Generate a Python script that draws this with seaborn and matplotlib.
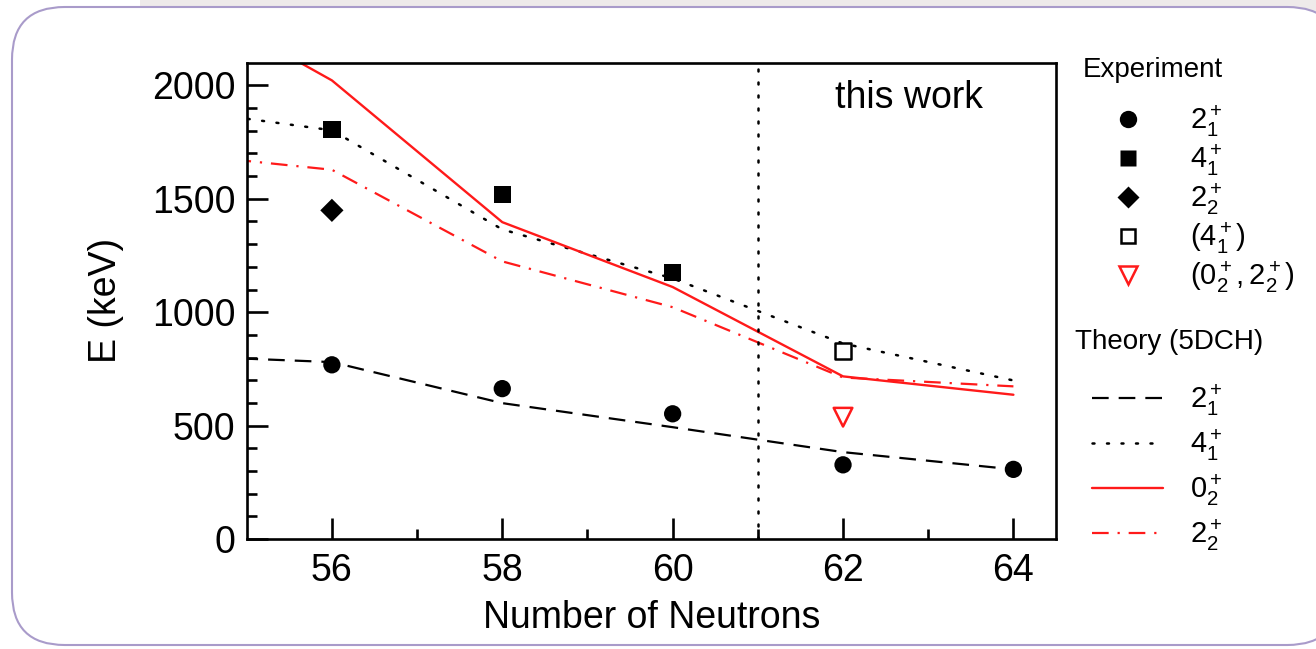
import matplotlib
matplotlib.use("Agg")
import matplotlib.pyplot as plt
import seaborn as sns
from matplotlib.lines import Line2D
from matplotlib.patches import FancyBboxPatch, Rectangle

# experiment points (keV)
n_21 = [56, 58, 60, 62, 64]
e_21 = [768, 663, 552, 327, 307]
n_41 = [56, 58, 60]
e_41 = [1805, 1518, 1174]
n_22 = [56]
e_22 = [1449]
n_41_tent = [62]
e_41_tent = [827]
n_0222 = [62]
e_0222 = [537]

# theory (5DCH)
n_th = [54, 56, 58, 60, 62, 64]
th_21 = [810, 780, 599, 493, 383, 307]
th_41 = [1904, 1802, 1365, 1149, 862, 699]
th_02 = [2442, 2022, 1397, 1111, 717, 636]
th_22 = [1706, 1628, 1224, 1022, 712, 673]

sns.set_style("ticks")
plt.rcParams["font.family"] = ["Liberation Sans", "DejaVu Sans"]
plt.rcParams["mathtext.fontset"] = "custom"
plt.rcParams["mathtext.rm"] = "Liberation Sans"
plt.rcParams["mathtext.it"] = "Liberation Sans:italic"
plt.rcParams["mathtext.bf"] = "Liberation Sans:bold"
plt.rcParams["text.color"] = "black"
plt.rcParams["axes.labelcolor"] = "black"
plt.rcParams["xtick.color"] = "black"
plt.rcParams["ytick.color"] = "black"

RED = "#ff1a1a"
W, H = 1316, 649
fig = plt.figure(figsize=(W / 100, H / 100), dpi=100)
fig.patch.set_facecolor("white")

# card background
fig.patches.append(Rectangle((140 / W, (H - 20) / H), 1 - 140 / W, 20 / H,
                             transform=fig.transFigure, facecolor="#eeeaea",
                             edgecolor="none", zorder=-3))
fig.patches.append(FancyBboxPatch((12 / W, (H - 645) / H), (1340 - 12) / W, (645 - 7) / H,
                                  boxstyle="round,pad=0,rounding_size=0.04",
                                  mutation_aspect=W / H,
                                  transform=fig.transFigure, facecolor="white",
                                  edgecolor="#a99bca", lw=1.5, zorder=-2))

ax = fig.add_axes([246.7 / W, (H - 539) / H, (1056 - 246.7) / W, (539 - 62.7) / H])
ax.set_facecolor("none")

dash = (0, (7.5, 4.5))
dots = (0, (0.8, 5.0))
dashdot = (0, (7.5, 4, 1, 4))

sns.lineplot(x=n_th, y=th_21, ax=ax, color="black", lw=1.6, ls=dash)
sns.lineplot(x=n_th, y=th_41, ax=ax, color="black", lw=1.8, ls=dots, dash_capstyle="round")
sns.lineplot(x=n_th, y=th_02, ax=ax, color=RED, lw=1.7)
sns.lineplot(x=n_th, y=th_22, ax=ax, color=RED, lw=1.6, ls=dashdot)

ax.axvline(61, color="black", lw=1.8, ls=(0, (0.8, 4.4)), dash_capstyle="round")

sns.scatterplot(x=n_21, y=e_21, ax=ax, marker="o", s=155, color="black", edgecolor="none")
sns.scatterplot(x=n_41, y=e_41, ax=ax, marker="s", s=155, color="black", edgecolor="none")
sns.scatterplot(x=n_22, y=e_22, ax=ax, marker="D", s=140, color="black", edgecolor="none")
sns.scatterplot(x=n_41_tent, y=e_41_tent, ax=ax, marker="s", s=135, facecolor="none",
                edgecolor="black", linewidth=1.8)
sns.scatterplot(x=n_0222, y=e_0222, ax=ax, marker="v", s=180, facecolor="none",
                edgecolor=RED, linewidth=1.8)

ax.set_xlim(55, 64.5)
ax.set_ylim(0, 2100)
ax.set_xticks([56, 58, 60, 62, 64])
ax.set_xticks([57, 59, 61, 63], minor=True)
ax.set_yticks([0, 500, 1000, 1500, 2000])
ax.set_yticks([y for y in range(100, 2100, 100) if y % 500], minor=True)
ax.tick_params(axis="both", which="both", direction="in", top=False, right=False,
               labelsize=27, width=1.9, color="black", labelcolor="black")
ax.tick_params(axis="both", which="major", length=15)
ax.tick_params(axis="both", which="minor", length=7.5)
ax.tick_params(axis="x", pad=10)
ax.tick_params(axis="y", pad=8)
for sp in ax.spines.values():
    sp.set_linewidth(1.9)
    sp.set_color("black")

ax.set_xlabel("Number of Neutrons", fontsize=27, labelpad=8)
ax.set_ylabel("E (keV)", fontsize=27, labelpad=20)
ax.text(835 / W, (H - 98) / H, "this work", transform=fig.transFigure,
        fontsize=27, va="center", ha="left")

# legends
fig.text(1083 / W, (H - 70) / H, "Experiment", fontsize=20, va="center", ha="left")
fig.text(1075 / W, (H - 342) / H, "Theory (5DCH)", fontsize=20, va="center", ha="left")

exp_handles = [
    Line2D([], [], ls="none", marker="o", ms=12.5, color="black", mec="none"),
    Line2D([], [], ls="none", marker="s", ms=11.5, color="black", mec="none"),
    Line2D([], [], ls="none", marker="D", ms=11, color="black", mec="none"),
    Line2D([], [], ls="none", marker="s", ms=10.5, mfc="none", mec="black", mew=1.8),
    Line2D([], [], ls="none", marker="v", ms=13, mfc="none", mec=RED, mew=1.8),
]
exp_labels = [r"$2_1^+$", r"$4_1^+$", r"$2_2^+$", r"$(4_1^+)$", r"$(0_2^+,2_2^+)$"]
th_handles = [
    Line2D([], [], color="black", lw=1.6, ls=dash),
    Line2D([], [], color="black", lw=1.8, ls=dots, dash_capstyle="round"),
    Line2D([], [], color=RED, lw=1.7),
    Line2D([], [], color=RED, lw=1.6, ls=dashdot),
]
th_labels = [r"$2_1^+$", r"$4_1^+$", r"$0_2^+$", r"$2_2^+$"]

fig.legend(exp_handles, exp_labels, loc="upper left",
           bbox_to_anchor=(1092 / W, (H - 103) / H), frameon=False,
           fontsize=21, handlelength=2.45, handletextpad=0.92,
           borderpad=0, borderaxespad=0, labelspacing=0.11)
fig.legend(th_handles, th_labels, loc="upper left",
           bbox_to_anchor=(1092 / W, (H - 382) / H), frameon=False,
           fontsize=21, handlelength=2.45, handletextpad=0.92,
           borderpad=0, borderaxespad=0, labelspacing=0.32)

fig.savefig("out.png", dpi=100)
